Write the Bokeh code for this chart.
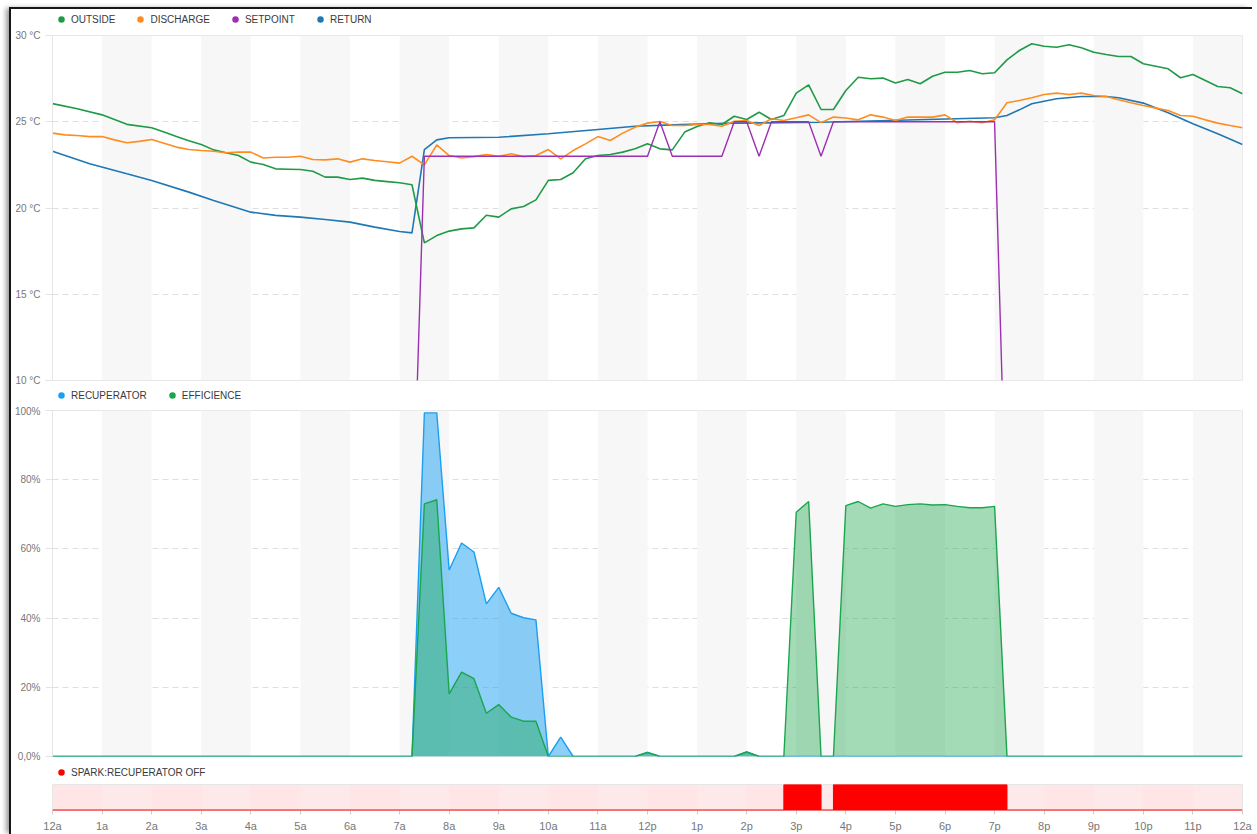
import numpy as np
from bokeh.plotting import figure
from bokeh.models import Legend, LegendItem, BoxAnnotation, FixedTicker, Span, Range1d
from bokeh.layouts import column
from bokeh.embed import file_html
from bokeh.resources import INLINE

# ---------------- data ----------------
hour_ticks = list(range(25))
hour_labels = ["12a", "1a", "2a", "3a", "4a", "5a", "6a", "7a", "8a", "9a", "10a", "11a",
               "12p", "1p", "2p", "3p", "4p", "5p", "6p", "7p", "8p", "9p", "10p", "11p", "12a"]
shaded_hours = [1, 3, 5, 7, 9, 11, 13, 15, 17, 19, 21, 23]

temp_ticks = [10, 15, 20, 25, 30]
temp_labels = ["10 °C", "15 °C", "20 °C", "25 °C", "30 °C"]
pct_ticks = [0, 20, 40, 60, 80, 100]
pct_labels = ["0,0%", "20%", "40%", "60%", "80%", "100%"]

outside_t = [0.0, 0.5, 1.0, 1.5, 2.0, 2.25, 2.5, 2.75, 3.0, 3.25, 3.5, 3.75, 4.0, 4.25, 4.5, 4.75,
             5.0, 5.25, 5.5, 5.75, 6.0, 6.25, 6.5, 6.75, 7.0, 7.25, 7.5, 7.75, 8.0, 8.25, 8.5, 8.75,
             9.0, 9.25, 9.5, 9.75, 10.0, 10.25, 10.5, 10.75, 11.0, 11.25, 11.5, 11.75, 12.0, 12.25,
             12.5, 12.75, 13.0, 13.25, 13.5, 13.75, 14.0, 14.25, 14.5, 14.75, 15.0, 15.25, 15.5,
             15.75, 16.0, 16.25, 16.5, 16.75, 17.0, 17.25, 17.5, 17.75, 18.0, 18.25, 18.5, 18.75,
             19.0, 19.25, 19.5, 19.75, 20.0, 20.25, 20.5, 20.75, 21.0, 21.25, 21.5, 21.75, 22.0,
             22.25, 22.5, 22.75, 23.0, 23.25, 23.5, 23.75, 24.0]
outside_v = [26.05, 25.75, 25.4, 24.85, 24.65, 24.4, 24.15, 23.9, 23.68, 23.37, 23.2, 23.04, 22.66,
             22.52, 22.27, 22.25, 22.23, 22.13, 21.79, 21.79, 21.65, 21.73, 21.6, 21.53, 21.46, 21.35,
             17.98, 18.4, 18.66, 18.79, 18.85, 19.58, 19.47, 19.95, 20.09, 20.47, 21.6, 21.65, 22.04,
             22.85, 23.04, 23.1, 23.24, 23.43, 23.72, 23.43, 23.37, 24.4, 24.72, 24.94, 24.84, 25.32,
             25.13, 25.55, 25.13, 25.36, 26.66, 27.14, 25.71, 25.71, 26.81, 27.58, 27.49, 27.53,
             27.25, 27.45, 27.2, 27.64, 27.87, 27.87, 27.97, 27.78, 27.84, 28.59, 29.13, 29.52,
             29.38, 29.32, 29.46, 29.29, 29.03, 28.9, 28.78, 28.78, 28.36, 28.22, 28.07, 27.55,
             27.74, 27.39, 27.04, 26.97, 26.62]

discharge_t = [0.0, 0.25, 0.5, 0.75, 1.0, 1.25, 1.5, 1.75, 2.0, 2.25, 2.5, 2.75, 3.0, 3.25, 3.5, 3.75,
               4.0, 4.25, 4.5, 4.75, 5.0, 5.25, 5.5, 5.75, 6.0, 6.25, 6.5, 6.75, 7.0, 7.25, 7.5, 7.75,
               8.0, 8.25, 8.5, 8.75, 9.0, 9.25, 9.5, 9.75, 10.0, 10.25, 10.5, 10.75, 11.0, 11.25,
               11.5, 11.75, 12.0, 12.25, 12.5, 12.75, 13.0, 13.25, 13.5, 13.75, 14.0, 14.25, 14.5,
               14.75, 15.0, 15.25, 15.5, 15.75, 16.0, 16.25, 16.5, 16.75, 17.0, 17.25, 17.5, 17.75,
               18.0, 18.25, 18.5, 18.75, 19.0, 19.25, 19.5, 19.75, 20.0, 20.25, 20.5, 20.75, 21.0,
               21.25, 21.5, 21.75, 22.0, 22.25, 22.5, 22.75, 23.0, 23.25, 23.5, 23.75, 24.0]
discharge_v = [24.34, 24.24, 24.2, 24.14, 24.14, 23.95, 23.78, 23.86, 23.97, 23.75, 23.53, 23.39,
               23.33, 23.29, 23.2, 23.24, 23.24, 22.9, 22.94, 22.94, 23.0, 22.81, 22.79, 22.85,
               22.66, 22.85, 22.75, 22.68, 22.6, 23.0, 22.5, 23.66, 23.04, 22.9, 22.98, 23.1, 23.0,
               23.14, 22.98, 23.04, 23.39, 22.85, 23.33, 23.72, 24.14, 23.91, 24.34, 24.68, 24.92,
               25.01, 24.78, 24.78, 24.84, 24.84, 24.74, 25.03, 25.07, 24.78, 25.17, 25.07, 25.23,
               25.4, 24.95, 25.27, 25.22, 25.11, 25.4, 25.27, 25.07, 25.27, 25.27, 25.27, 25.4,
               24.94, 25.03, 24.94, 25.11, 26.1, 26.23, 26.39, 26.58, 26.66, 26.58, 26.66, 26.52,
               26.46, 26.27, 26.1, 25.94, 25.79, 25.65, 25.36, 25.32, 25.11, 24.92, 24.78, 24.65]

setpoint_t = [0.0, 7.25, 7.5, 12.0, 12.25, 12.5, 13.5, 13.75, 14.0, 14.25, 14.5, 15.25, 15.5, 15.75,
              19.0, 19.25, 24.0]
setpoint_v = [0, 0, 23, 23, 25, 23, 23, 25, 25, 23, 25, 25, 23, 25, 25, 0, 0]

return_t = [0.0, 0.75, 1.5, 2.0, 2.75, 3.25, 4.0, 4.5, 5.0, 5.5, 6.0, 6.5, 7.0, 7.25, 7.5, 7.75, 8.0,
            9.0, 10.0, 11.0, 11.75, 12.5, 13.75, 15.5, 19.0, 19.25, 19.5, 19.75, 20.25, 20.75, 21.25,
            21.5, 22.0, 22.5, 23.0, 23.5, 24.0]
return_v = [23.29, 22.56, 21.98, 21.6, 20.92, 20.43, 19.76, 19.57, 19.47, 19.33, 19.18, 18.89, 18.64,
            18.56, 23.39, 23.95, 24.07, 24.1, 24.3, 24.55, 24.74, 24.82, 24.92, 24.97, 25.23, 25.36,
            25.69, 26.04, 26.33, 26.46, 26.46, 26.39, 26.08, 25.52, 24.88, 24.3, 23.68]

recup_t = [0.0, 7.25, 7.5, 7.75, 8.0, 8.25, 8.5, 8.75, 9.0, 9.25, 9.5, 9.75, 10.0, 10.25, 10.5,
           11.75, 12.0, 12.25, 13.75, 14.0, 14.25, 24.0]
recup_v = [0, 0, 99.3, 99.3, 53.9, 61.7, 59.1, 44.1, 48.9, 41.4, 40.1, 39.5, 0, 5.6, 0,
           0, 1.2, 0, 0, 1.3, 0, 0]

eff_t = [0.0, 7.25, 7.5, 7.75, 8.0, 8.25, 8.5, 8.75, 9.0, 9.25, 9.5, 9.75, 10.0, 11.75, 12.0, 12.25,
         13.75, 14.0, 14.25, 14.75, 15.0, 15.25, 15.5, 15.75, 16.0, 16.25, 16.5, 16.75, 17.0, 17.25,
         17.5, 17.75, 18.0, 18.25, 18.5, 18.75, 19.0, 19.25, 24.0]
eff_v = [0, 0, 73.0, 74.2, 18.1, 24.4, 22.5, 12.5, 15.0, 11.4, 10.2, 10.2, 0, 0, 1.2, 0,
         0, 1.3, 0, 0, 70.6, 73.7, 0, 0, 72.5, 73.7, 71.8, 73.0, 72.3, 72.8, 73.0, 72.7, 72.8,
         72.3, 71.9, 71.9, 72.3, 0, 0]

spark_start = [14.75, 15.75]
spark_end = [15.5, 19.25]

# ---------------- styling ----------------
FONT = "Liberation Sans"
C_OUT = "#1f9a46"
C_DIS = "#ff8c1f"
C_SET = "#9c2fb2"
C_RET = "#1f78b4"
C_REC = "#1a9ff2"
C_EFF = "#1aa64c"
C_SPK = "#ff0000"

x_range = Range1d(0, 24)
FW = 1190
LEFT = 41     # content starts at x=11 (9px margin + 2px border) -> frame at x=52
RIGHT = 10
W = LEFT + FW + RIGHT


def base_fig(frame_h, top, bottom, y_range, y_axis=True, x_axis=False):
    p = figure(width=W, height=top + frame_h + bottom, x_range=x_range, y_range=y_range,
               output_backend="svg", toolbar_location=None,
               x_axis_location="below" if x_axis else None,
               y_axis_location="left" if y_axis else None,
               min_border_left=LEFT, min_border_right=RIGHT, min_border_top=top,
               min_border_bottom=bottom)
    p.outline_line_color = "#e6e6e6"
    p.outline_line_width = 1
    p.background_fill_color = "white"
    p.border_fill_color = "white"
    p.xgrid.visible = False
    if y_axis:
        ax = p.yaxis[0]
        ax.axis_line_color = "#e6e6e6"
        ax.major_tick_line_color = "#e3e3e3"
        ax.major_tick_out = 7
        ax.major_tick_in = 0
        ax.minor_tick_line_color = None
        ax.major_label_standoff = 5
        ax.major_label_text_font = FONT
        ax.major_label_text_font_size = "10px"
        ax.major_label_text_color = "#777777"
        p.ygrid.grid_line_color = "#dedede"
        p.ygrid.grid_line_dash = "6 4"
        p.ygrid.grid_line_width = 1
    else:
        p.ygrid.visible = False
    return p


def add_bands(p, alpha=1.0):
    for h in shaded_hours:
        p.add_layout(BoxAnnotation(left=h, right=h + 1, fill_color="#f7f7f7", fill_alpha=alpha,
                                   line_alpha=0, level="underlay"))


def legend_fig(height, labels, colors):
    lf = figure(width=W, height=height, x_range=Range1d(0, 1), y_range=Range1d(0, 1),
                output_backend="svg", toolbar_location=None,
                x_axis_location=None, y_axis_location=None,
                min_border_left=LEFT, min_border_right=RIGHT, min_border_top=0,
                min_border_bottom=0)
    lf.outline_line_color = None
    lf.xgrid.visible = False
    lf.ygrid.visible = False
    items = []
    for lab, col in zip(labels, colors):
        r = lf.scatter(x=[np.nan], y=[np.nan], marker="circle", size=6, fill_color=col,
                       line_color=col, line_width=2.5)
        items.append(LegendItem(label=lab, renderers=[r]))
    lg = Legend(items=items, orientation="horizontal", location="top_left",
                glyph_width=10, glyph_height=12, label_height=12,
                label_standoff=5, spacing=20, padding=4, margin=0,
                border_line_alpha=0, background_fill_alpha=0,
                label_text_font=FONT, label_text_font_size="10px",
                label_text_color="#3a3a3a")
    lf.add_layout(lg, "center")
    return lf


# ---------------- top: temperatures ----------------
leg1 = legend_fig(20, ["OUTSIDE", "DISCHARGE", "SETPOINT", "RETURN"], [C_OUT, C_DIS, C_SET, C_RET])

p1 = base_fig(345, 6, 5, Range1d(10, 30))
add_bands(p1)
p1.yaxis[0].ticker = FixedTicker(ticks=temp_ticks)
p1.yaxis[0].major_label_overrides = dict(zip(temp_ticks, temp_labels))
p1.line(return_t, return_v, line_color=C_RET, line_width=1.6)
p1.line(outside_t, outside_v, line_color=C_OUT, line_width=1.6)
p1.line(discharge_t, discharge_v, line_color=C_DIS, line_width=1.6)
p1.line(setpoint_t, setpoint_v, line_color=C_SET, line_width=1.4)

# ---------------- middle: recuperator / efficiency ----------------
leg2 = legend_fig(20, ["RECUPERATOR", "EFFICIENCE"], [C_REC, C_EFF])

p2 = base_fig(346, 5, 6, Range1d(0, 100))
add_bands(p2)
p2.yaxis[0].ticker = FixedTicker(ticks=pct_ticks)
p2.yaxis[0].major_label_overrides = dict(zip(pct_ticks, pct_labels))
p2.varea(x=recup_t, y1=0, y2=recup_v, fill_color=C_REC, fill_alpha=0.5)
p2.line(recup_t, recup_v, line_color=C_REC, line_width=1.4)
p2.varea(x=eff_t, y1=0, y2=eff_v, fill_color=C_EFF, fill_alpha=0.4)
p2.line(eff_t, eff_v, line_color=C_EFF, line_width=1.4)

# ---------------- bottom: spark ----------------
leg3 = legend_fig(18, ["SPARK:RECUPERATOR OFF"], [C_SPK])

p3 = base_fig(26, 4, 24, Range1d(0, 1), y_axis=False, x_axis=True)
p3.background_fill_color = "#ffe5e5"
add_bands(p3, alpha=0.25)
p3.quad(left=spark_start, right=spark_end, bottom=0, top=1, fill_color=C_SPK, line_color=C_SPK)
p3.add_layout(Span(location=0, dimension="width", line_color=C_SPK, line_width=2))
xa = p3.xaxis[0]
xa.ticker = FixedTicker(ticks=hour_ticks)
xa.major_label_overrides = dict(zip(hour_ticks, hour_labels))
xa.axis_line_color = "#e6e6e6"
xa.major_tick_line_color = "#cccccc"
xa.major_tick_out = 4
xa.major_tick_in = 0
xa.minor_tick_line_color = None
xa.major_label_standoff = 5
xa.major_label_text_font = FONT
xa.major_label_text_font_size = "11px"
xa.major_label_text_color = "#777777"

layout = column(leg1, p1, leg2, p2, leg3, p3, spacing=0,
                styles={"margin-left": "9px", "margin-top": "7px",
                        "border-left": "2px solid #161616", "border-top": "2px solid #161616",
                        "box-shadow": "-4px 0px 5px -1px rgba(0,0,0,0.4)"})

open("out.html", "w").write(file_html(layout, INLINE))
